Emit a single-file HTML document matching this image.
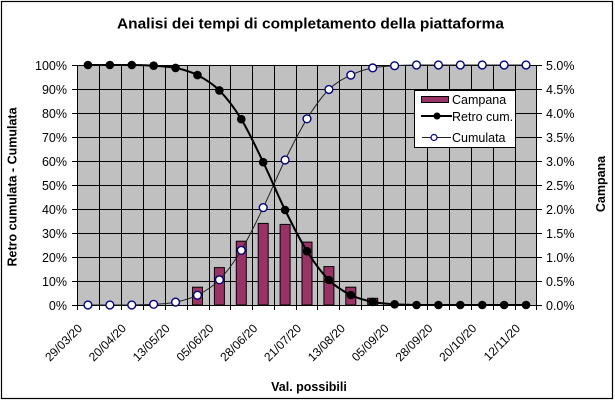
<!DOCTYPE html>
<html>
<head>
<meta charset="utf-8">
<style>
  html,body{margin:0;padding:0;background:#fff;}
  body{width:615px;height:401px;overflow:hidden;}
  svg{display:block;font-family:"Liberation Sans",Arial,sans-serif;}
</style>
</head>
<body>
<svg width="615" height="401" viewBox="0 0 615 401" xmlns="http://www.w3.org/2000/svg">
  <rect x="0" y="0" width="615" height="401" fill="#fff"/>
  <rect x="1.5" y="1.5" width="611" height="397" fill="none" stroke="#000" stroke-width="1.2"/>

  <!-- Title -->
  <text x="310.5" y="28.3" font-size="14.5" font-weight="bold" text-anchor="middle" textLength="387" lengthAdjust="spacingAndGlyphs" fill="#000">Analisi dei tempi di completamento della piattaforma</text>

  <!-- Plot area -->
  <rect x="77.5" y="65.5" width="459" height="240" fill="#C0C0C0" stroke="#808080" stroke-width="1"/>

  <!-- Horizontal gridlines -->
  <g stroke="#000" stroke-width="1" shape-rendering="crispEdges">
    <line x1="77" y1="65.5" x2="537" y2="65.5"/>
    <line x1="77" y1="89.5" x2="537" y2="89.5"/>
    <line x1="77" y1="113.5" x2="537" y2="113.5"/>
    <line x1="77" y1="137.5" x2="537" y2="137.5"/>
    <line x1="77" y1="161.5" x2="537" y2="161.5"/>
    <line x1="77" y1="185.5" x2="537" y2="185.5"/>
    <line x1="77" y1="209.5" x2="537" y2="209.5"/>
    <line x1="77" y1="233.5" x2="537" y2="233.5"/>
    <line x1="77" y1="257.5" x2="537" y2="257.5"/>
    <line x1="77" y1="281.5" x2="537" y2="281.5"/>
  </g>
  <!-- Vertical gridlines -->
  <g stroke="#000" stroke-width="1" shape-rendering="crispEdges">
    <line x1="99.5" y1="65" x2="99.5" y2="310"/>
    <line x1="121.5" y1="65" x2="121.5" y2="310"/>
    <line x1="143.5" y1="65" x2="143.5" y2="310"/>
    <line x1="165.5" y1="65" x2="165.5" y2="310"/>
    <line x1="187.5" y1="65" x2="187.5" y2="310"/>
    <line x1="209.5" y1="65" x2="209.5" y2="310"/>
    <line x1="230.5" y1="65" x2="230.5" y2="310"/>
    <line x1="252.5" y1="65" x2="252.5" y2="310"/>
    <line x1="274.5" y1="65" x2="274.5" y2="310"/>
    <line x1="296.5" y1="65" x2="296.5" y2="310"/>
    <line x1="317.5" y1="65" x2="317.5" y2="310"/>
    <line x1="339.5" y1="65" x2="339.5" y2="310"/>
    <line x1="361.5" y1="65" x2="361.5" y2="310"/>
    <line x1="383.5" y1="65" x2="383.5" y2="310"/>
    <line x1="405.5" y1="65" x2="405.5" y2="310"/>
    <line x1="427.5" y1="65" x2="427.5" y2="310"/>
    <line x1="449.5" y1="65" x2="449.5" y2="310"/>
    <line x1="471.5" y1="65" x2="471.5" y2="310"/>
    <line x1="493.5" y1="65" x2="493.5" y2="310"/>
    <line x1="515.5" y1="65" x2="515.5" y2="310"/>
  </g>

  <!-- Axes -->
  <g stroke="#000" stroke-width="1" shape-rendering="crispEdges">
    <line x1="77.5" y1="65" x2="77.5" y2="310"/>
    <line x1="536.5" y1="65" x2="536.5" y2="306"/>
    <line x1="72" y1="305.5" x2="542" y2="305.5"/>
    <!-- left ticks -->
    <line x1="72" y1="65.5" x2="77" y2="65.5"/>
    <line x1="72" y1="89.5" x2="77" y2="89.5"/>
    <line x1="72" y1="113.5" x2="77" y2="113.5"/>
    <line x1="72" y1="137.5" x2="77" y2="137.5"/>
    <line x1="72" y1="161.5" x2="77" y2="161.5"/>
    <line x1="72" y1="185.5" x2="77" y2="185.5"/>
    <line x1="72" y1="209.5" x2="77" y2="209.5"/>
    <line x1="72" y1="233.5" x2="77" y2="233.5"/>
    <line x1="72" y1="257.5" x2="77" y2="257.5"/>
    <line x1="72" y1="281.5" x2="77" y2="281.5"/>
    <!-- right ticks -->
    <line x1="537" y1="65.5" x2="542" y2="65.5"/>
    <line x1="537" y1="89.5" x2="542" y2="89.5"/>
    <line x1="537" y1="113.5" x2="542" y2="113.5"/>
    <line x1="537" y1="137.5" x2="542" y2="137.5"/>
    <line x1="537" y1="161.5" x2="542" y2="161.5"/>
    <line x1="537" y1="185.5" x2="542" y2="185.5"/>
    <line x1="537" y1="209.5" x2="542" y2="209.5"/>
    <line x1="537" y1="233.5" x2="542" y2="233.5"/>
    <line x1="537" y1="257.5" x2="542" y2="257.5"/>
    <line x1="537" y1="281.5" x2="542" y2="281.5"/>
    <line x1="536.5" y1="305" x2="536.5" y2="310"/>
  </g>

  <!-- Left tick labels -->
  <g font-size="12.5" fill="#000" text-anchor="end">
    <text x="67" y="70">100%</text>
    <text x="67" y="94">90%</text>
    <text x="67" y="118">80%</text>
    <text x="67" y="142">70%</text>
    <text x="67" y="166">60%</text>
    <text x="67" y="190">50%</text>
    <text x="67" y="214">40%</text>
    <text x="67" y="238">30%</text>
    <text x="67" y="262">20%</text>
    <text x="67" y="286">10%</text>
    <text x="67" y="310">0%</text>
  </g>
  <!-- Right tick labels -->
  <g font-size="12.5" fill="#000" text-anchor="start">
    <text x="546" y="70">5.0%</text>
    <text x="546" y="94">4.5%</text>
    <text x="546" y="118">4.0%</text>
    <text x="546" y="142">3.5%</text>
    <text x="546" y="166">3.0%</text>
    <text x="546" y="190">2.5%</text>
    <text x="546" y="214">2.0%</text>
    <text x="546" y="238">1.5%</text>
    <text x="546" y="262">1.0%</text>
    <text x="546" y="286">0.5%</text>
    <text x="546" y="310">0.0%</text>
  </g>

  <!-- X tick labels rotated -->
  <g font-size="12" fill="#000" text-anchor="end">
    <text transform="translate(83,329) rotate(-45)">29/03/20</text>
    <text transform="translate(126.8,329) rotate(-45)">20/04/20</text>
    <text transform="translate(170.6,329) rotate(-45)">13/05/20</text>
    <text transform="translate(214.4,329) rotate(-45)">05/06/20</text>
    <text transform="translate(258.2,329) rotate(-45)">28/06/20</text>
    <text transform="translate(302,329) rotate(-45)">21/07/20</text>
    <text transform="translate(345.8,329) rotate(-45)">13/08/20</text>
    <text transform="translate(389.6,329) rotate(-45)">05/09/20</text>
    <text transform="translate(433.4,329) rotate(-45)">28/09/20</text>
    <text transform="translate(477.2,329) rotate(-45)">20/10/20</text>
    <text transform="translate(521,329) rotate(-45)">12/11/20</text>
  </g>

  <!-- Axis titles -->
  <text transform="translate(16.5,187) rotate(-90)" font-size="12.5" font-weight="bold" text-anchor="middle" fill="#000">Retro cumulata - Cumulata</text>
  <text transform="translate(605,184) rotate(-90)" font-size="12.5" font-weight="bold" text-anchor="middle" fill="#000">Campana</text>
  <text x="309" y="391" font-size="12.5" font-weight="bold" text-anchor="middle" fill="#000">Val. possibili</text>

  <!-- Bars (Campana) -->
  <g fill="#993366" stroke="#000" stroke-width="1">
    <rect x="192.5" y="287.2" width="10" height="17.8"/>
    <rect x="214.4" y="267.6" width="10" height="37.4"/>
    <rect x="236.3" y="241.2" width="10" height="63.8"/>
    <rect x="258.2" y="223.4" width="10" height="81.6"/>
    <rect x="280.1" y="224.4" width="10" height="80.6"/>
    <rect x="302" y="242.1" width="10" height="62.9"/>
    <rect x="323.9" y="266.6" width="10" height="38.4"/>
    <rect x="345.8" y="287.2" width="10" height="17.8"/>
    <rect x="367.7" y="298.3" width="10" height="6.7"/>
  </g>

  <!-- Cumulata line -->
  <path fill="none" stroke="#222" stroke-width="1" d="M87.95,305 L131.76,305 C139.06,304.88 146.37,304.78 153.67,304.3 C160.97,303.82 168.27,303.62 175.57,302.1 C182.87,300.58 190.18,298.92 197.48,295.2 C204.78,291.48 212.08,287.28 219.38,279.8 C226.68,272.32 233.99,262.33 241.29,250.3 C248.59,238.27 255.89,222.65 263.19,207.6 C270.49,192.55 277.8,174.8 285.1,160 C292.4,145.2 299.7,130.55 307,118.8 C314.3,107.05 321.6,96.78 328.9,89.5 C336.2,82.22 343.51,78.7 350.81,75.1 C358.11,71.5 365.41,69.47 372.71,67.9 C380.01,66.33 387.32,66.18 394.62,65.7 C401.92,65.22 409.22,65.12 416.52,65 L526.05,65"/>

  <!-- Retro cum line -->
  <path fill="none" stroke="#000" stroke-width="2" d="M87.95,65 L131.76,65 C139.06,65.12 146.37,65.22 153.67,65.7 C160.97,66.18 168.27,66.33 175.57,67.9 C182.87,69.47 190.18,71.35 197.48,75.1 C204.78,78.85 212.08,83.05 219.38,90.4 C226.68,97.75 233.99,107.23 241.29,119.2 C248.59,131.17 255.89,147.07 263.19,162.2 C270.49,177.33 277.8,195.17 285.1,210 C292.4,224.83 299.7,239.53 307,251.2 C314.3,262.87 321.6,272.7 328.9,280 C336.2,287.3 343.51,291.35 350.81,295 C358.11,298.65 365.41,300.35 372.71,301.9 C380.01,303.45 387.32,303.78 394.62,304.3 C401.92,304.82 409.22,304.88 416.52,305 L526.05,305"/>

  <!-- Retro markers -->
  <g fill="#000">
    <circle cx="87.95" cy="65" r="4.3"/>
    <circle cx="109.86" cy="65" r="4.3"/>
    <circle cx="131.76" cy="65" r="4.3"/>
    <circle cx="153.67" cy="65.7" r="4.3"/>
    <circle cx="175.57" cy="67.9" r="4.3"/>
    <circle cx="197.48" cy="75.1" r="4.3"/>
    <circle cx="219.38" cy="90.4" r="4.3"/>
    <circle cx="241.29" cy="119.2" r="4.3"/>
    <circle cx="263.19" cy="162.2" r="4.3"/>
    <circle cx="285.1" cy="210" r="4.3"/>
    <circle cx="307" cy="251.2" r="4.3"/>
    <circle cx="328.9" cy="280" r="4.3"/>
    <circle cx="350.81" cy="295" r="4.3"/>
    <circle cx="372.71" cy="301.9" r="4.3"/>
    <circle cx="394.62" cy="304.3" r="4.3"/>
    <circle cx="416.52" cy="305" r="4.3"/>
    <circle cx="438.43" cy="305" r="4.3"/>
    <circle cx="460.33" cy="305" r="4.3"/>
    <circle cx="482.24" cy="305" r="4.3"/>
    <circle cx="504.14" cy="305" r="4.3"/>
    <circle cx="526.05" cy="305" r="4.3"/>
  </g>

  <!-- Cumulata markers -->
  <g fill="#fff" stroke="#000080" stroke-width="1.4">
    <circle cx="87.95" cy="305" r="3.9"/>
    <circle cx="109.86" cy="305" r="3.9"/>
    <circle cx="131.76" cy="305" r="3.9"/>
    <circle cx="153.67" cy="304.3" r="3.9"/>
    <circle cx="175.57" cy="302.1" r="3.9"/>
    <circle cx="197.48" cy="295.2" r="3.9"/>
    <circle cx="219.38" cy="279.8" r="3.9"/>
    <circle cx="241.29" cy="250.3" r="3.9"/>
    <circle cx="263.19" cy="207.6" r="3.9"/>
    <circle cx="285.1" cy="160" r="3.9"/>
    <circle cx="307" cy="118.8" r="3.9"/>
    <circle cx="328.9" cy="89.5" r="3.9"/>
    <circle cx="350.81" cy="75.1" r="3.9"/>
    <circle cx="372.71" cy="67.9" r="3.9"/>
    <circle cx="394.62" cy="65.7" r="3.9"/>
    <circle cx="416.52" cy="65" r="3.9"/>
    <circle cx="438.43" cy="65" r="3.9"/>
    <circle cx="460.33" cy="65" r="3.9"/>
    <circle cx="482.24" cy="65" r="3.9"/>
    <circle cx="504.14" cy="65" r="3.9"/>
    <circle cx="526.05" cy="65" r="3.9"/>
  </g>

  <!-- Legend -->
  <rect x="414.5" y="90.5" width="101" height="57" fill="#fff" stroke="#000" stroke-width="1"/>
  <rect x="421.5" y="96.5" width="27" height="6" fill="#993366" stroke="#000" stroke-width="1"/>
  <line x1="421" y1="116" x2="452" y2="116" stroke="#000" stroke-width="2"/>
  <circle cx="437" cy="116" r="3.5" fill="#000"/>
  <line x1="422" y1="137.5" x2="451" y2="137.5" stroke="#222" stroke-width="1"/>
  <circle cx="434" cy="137.5" r="3" fill="#fff" stroke="#000080" stroke-width="1.2"/>
  <g font-size="12.5" fill="#000">
    <text x="452" y="104">Campana</text>
    <text x="452" y="121">Retro cum.</text>
    <text x="452" y="142">Cumulata</text>
  </g>
</svg>
</body>
</html>
